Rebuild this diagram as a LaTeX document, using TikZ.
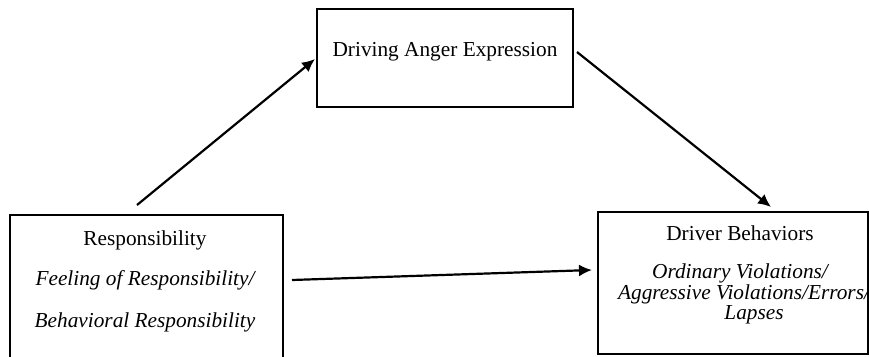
\documentclass[tikz,border=0pt]{standalone}
\usepackage{fontspec}
\setmainfont{Liberation Serif}
\usepackage{tikz}
\usetikzlibrary{positioning, arrows.meta}

\begin{document}
\begin{tikzpicture}[x=1pt, y=-1pt,
        box/.style={draw, line width=2pt, inner sep=0pt},
        txt/.style={inner sep=0pt, font=\fontsize{21.3}{21}\selectfont},
        link/.style={line width=2.2pt, -{Latex[length=13pt,width=12pt]}}]
    \clip (0,0) rectangle (869,356);
    % boxes
    \node[box, minimum width=256, minimum height=98] (anger) at (445,58) {};
    \node[box, minimum width=273, minimum height=160] (resp) at (146,295) {};
    \node[box, minimum width=270, minimum height=142] (behav) at (733,283) {};
    % texts
    \node[txt] (angertxt) at (445,52) {Driving Anger Expression};
    \node[txt] (resptxt) at (145,240) {Responsibility};
    \node[txt] (feeling) at (145,280) {\itshape Feeling of Responsibility/};
    \node[txt] (behavioral) at (145,322) {\itshape Behavioral Responsibility};
    \node[txt] (behavtxt) at (740,233) {Driver Behaviors};
    \node[txt] (ordinary) at (740,273) {\itshape Ordinary Violations/};
    \node[txt] (aggressive) at (744,294) {\itshape Aggressive Violations/Errors/};
    \node[txt] (lapses) at (754,315) {\itshape Lapses};
    % arrow ends
    \coordinate (a1) at (137,205);
    \coordinate (a2) at (315,59);
    \coordinate (b1) at (577,52);
    \coordinate (b2) at (771,207);
    \coordinate (c1) at (292,280);
    \coordinate (c2) at (592,270);
    \draw[link] (a1) -- (a2);
    \draw[link] (b1) -- (b2);
    \draw[link] (c1) -- (c2);
\end{tikzpicture}
\end{document}
